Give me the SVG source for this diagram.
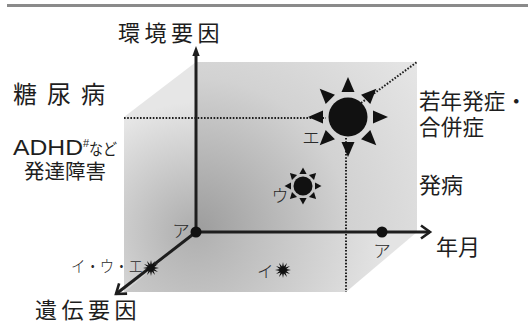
<svg xmlns="http://www.w3.org/2000/svg" width="528" height="324" viewBox="0 0 528 324">
<defs>
<style>
.jp{font-family:"Noto Sans CJK JP","Noto Sans CJK SC",sans-serif;fill:#1e1e1e}
.lat{font-family:"Liberation Sans","Noto Sans",sans-serif;fill:#1e1e1e}
.kana{font-family:"Noto Sans CJK JP",sans-serif;fill:#2a2a2a;font-weight:300}
.axis{stroke:#1e1e1e;stroke-width:3;fill:none}
.dot{stroke:#1e1e1e;stroke-width:2;stroke-dasharray:1.6 1.6;fill:none}
.ink{fill:#111}
</style>
<radialGradient id="gBack" gradientUnits="userSpaceOnUse" cx="196" cy="232" r="280">
<stop offset="0" stop-color="#9c9c9c"/>
<stop offset="0.55" stop-color="#d2d2d2"/>
<stop offset="1" stop-color="#e6e6e6"/>
</radialGradient>
<radialGradient id="gSide" gradientUnits="userSpaceOnUse" cx="196" cy="232" r="130">
<stop offset="0" stop-color="#acacac"/>
<stop offset="1" stop-color="#e6e6e6"/>
</radialGradient>
<radialGradient id="gFloor" gradientUnits="userSpaceOnUse" cx="196" cy="232" r="190">
<stop offset="0" stop-color="#b0b0b0"/>
<stop offset="1" stop-color="#e4e4e4"/>
</radialGradient>
<marker id="chev" markerUnits="userSpaceOnUse" markerWidth="20" markerHeight="20" refX="0" refY="0" viewBox="-12 -10 14 20" orient="auto">
<path d="M-9,-6.5 L0,0 L-9,6.5" fill="none" stroke="#1e1e1e" stroke-width="2.6"/>
</marker>
<path id="rayB" d="M0,-40 L-6.5,-25 L6.5,-25 Z"/>
<path id="rayS" d="M0,-18.5 L-3.6,-12 L3.6,-12 Z"/>
<polygon id="burst" points="0,-8 0.906,-3.381 4,-6.93 2.475,-2.475 6.93,-4 3.381,-0.906 8,0 3.381,0.906 6.93,4 2.475,2.475 4,6.93 0.906,3.381 0,8 -0.906,3.381 -4,6.93 -2.475,2.475 -6.93,4 -3.381,0.906 -8,0 -3.381,-0.906 -6.93,-4 -2.475,-2.475 -4,-6.93 -0.906,-3.381"/>
</defs>

<rect x="7" y="4" width="521" height="3" fill="#8a8a8a"/>

<g id="box">
<rect x="196" y="62" width="221" height="170" fill="url(#gBack)"/>
<polygon points="124,117 196,62 196,232 124,292" fill="url(#gSide)"/>
<polygon points="124,292 196,232 417,232 346,292" fill="url(#gFloor)"/>
</g>

<g id="connectors">
<line class="dot" x1="124" y1="118" x2="326" y2="118"/>
<line class="dot" x1="361" y1="103" x2="417" y2="62"/>
<line class="dot" x1="346" y1="138" x2="346" y2="292"/>
<line class="axis" x1="196" y1="232" x2="196" y2="54"/>
<polygon points="196,46 192.3,56 199.7,56" fill="#1e1e1e"/>
<line class="axis" x1="196" y1="232" x2="430" y2="232" marker-end="url(#chev)"/>
<line class="axis" x1="196" y1="232" x2="116" y2="294" marker-end="url(#chev)"/>
</g>

<g id="origin">
<circle cx="196" cy="232" r="5.5" class="ink"/>
<text class="kana" x="181" y="237" font-size="17.5" text-anchor="middle">ア</text>
</g>
<g id="point-a-onset">
<circle cx="382" cy="232" r="5.5" class="ink"/>
<text class="kana" x="382" y="257" font-size="17.5" text-anchor="middle">ア</text>
</g>
<g id="point-iue">
<use href="#burst" x="151" y="268" class="ink"/>
<circle cx="151" cy="268" r="3" class="ink"/>
<text class="kana" x="71" y="272" font-size="16" textLength="72" lengthAdjust="spacingAndGlyphs">イ・ウ・エ</text>
</g>
<g id="point-i">
<use href="#burst" x="283" y="270" class="ink"/>
<circle cx="283" cy="270" r="3" class="ink"/>
<text class="kana" x="257" y="278" font-size="16.5">イ</text>
</g>
<g id="point-u" class="ink">
<circle cx="303" cy="186" r="9.5"/>
<g transform="translate(303,186)">
<use href="#rayS"/><use href="#rayS" transform="rotate(45)"/><use href="#rayS" transform="rotate(90)"/><use href="#rayS" transform="rotate(135)"/>
<use href="#rayS" transform="rotate(180)"/><use href="#rayS" transform="rotate(225)"/><use href="#rayS" transform="rotate(270)"/><use href="#rayS" transform="rotate(315)"/>
</g>
<text class="kana" x="280" y="202" font-size="17" text-anchor="middle">ウ</text>
</g>
<g id="point-e" class="ink">
<circle cx="348" cy="117" r="19.5"/>
<g transform="translate(348,117)">
<use href="#rayB"/><use href="#rayB" transform="rotate(45)"/><use href="#rayB" transform="rotate(90)"/><use href="#rayB" transform="rotate(135)"/>
<use href="#rayB" transform="rotate(180)"/><use href="#rayB" transform="rotate(225)"/><use href="#rayB" transform="rotate(270)"/><use href="#rayB" transform="rotate(315)"/>
</g>
<text class="kana" x="311" y="144" font-size="17.5" text-anchor="middle">エ</text>
</g>

<g id="label-env"><text class="jp" x="118" y="41" font-size="22" letter-spacing="4.5">環境要因</text></g>
<g id="label-gene"><text class="jp" x="35" y="318" font-size="22" letter-spacing="4.5">遺伝要因</text></g>
<g id="label-time"><text class="jp" x="436" y="255" font-size="22">年月</text></g>
<g id="label-diabetes"><text class="jp" x="13" y="103" font-size="24" letter-spacing="10">糖尿病</text></g>
<g id="label-adhd">
<text class="lat" x="13" y="155" font-size="22" textLength="70" lengthAdjust="spacingAndGlyphs">ADHD</text>
<text class="lat" x="83" y="147" font-size="11">#</text>
<text class="jp" x="89" y="155" font-size="15.5" textLength="28" lengthAdjust="spacingAndGlyphs">など</text>
<text class="jp" x="65" y="179" font-size="20.5" text-anchor="middle">発達障害</text>
</g>
<g id="label-early">
<text class="jp" x="419" y="109" font-size="21.5" textLength="108" lengthAdjust="spacing">若年発症・</text>
<text class="jp" x="419" y="135" font-size="21.5" textLength="65" lengthAdjust="spacing">合併症</text>
</g>
<g id="label-onset"><text class="jp" x="419" y="193" font-size="22">発病</text></g>
</svg>
